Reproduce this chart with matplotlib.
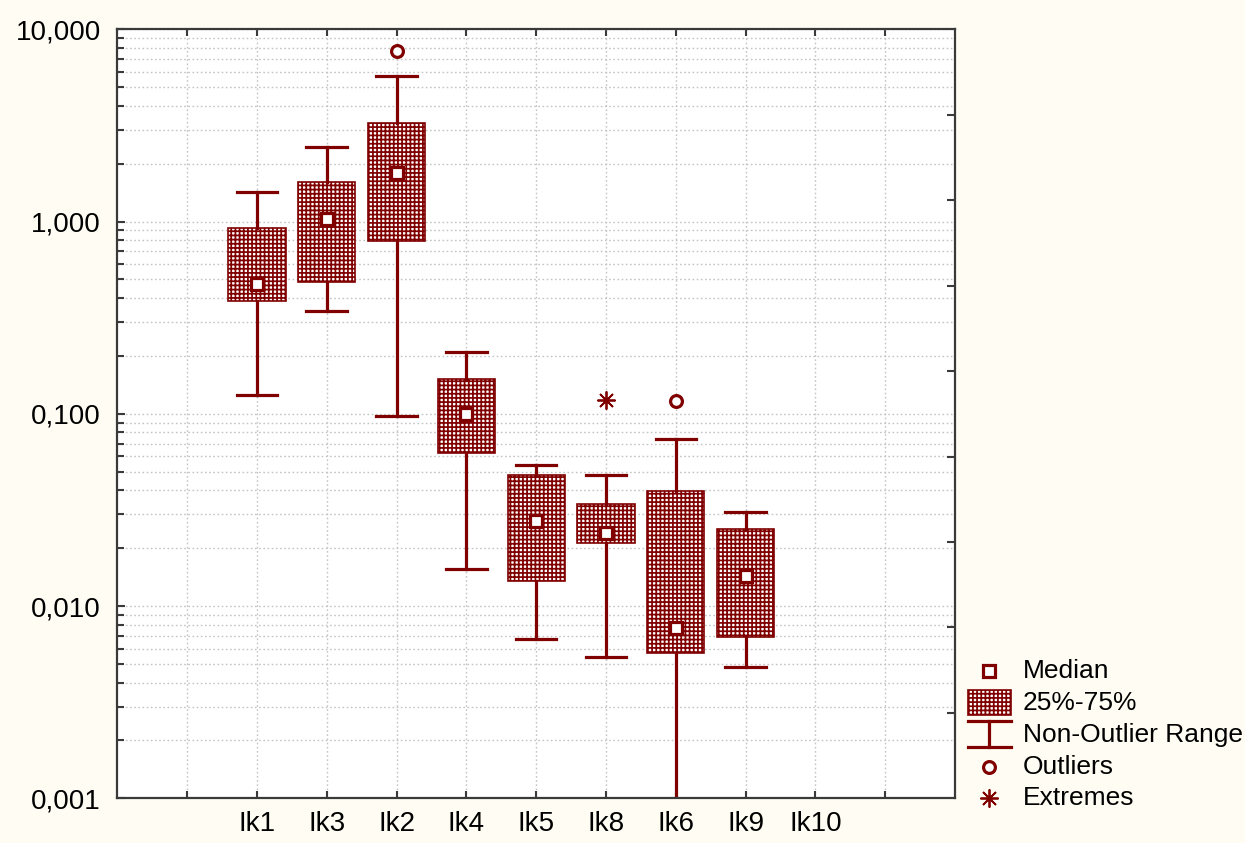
import matplotlib
matplotlib.use('Agg')
import matplotlib.pyplot as plt
from matplotlib.ticker import FuncFormatter, LogLocator, NullFormatter
from matplotlib.patches import Rectangle

plt.rcParams['font.family'] = ['Liberation Sans', 'DejaVu Sans']
plt.rcParams['hatch.linewidth'] = 1.25

MAROON = '#800000'
BG = '#fffdf3'
SPINE = '#3a3a3a'
GRID = '#c4c4c4'
HATCH = '++++'

# order of groups along the x axis (Ik10 has no data)
groups = ['Ik1', 'Ik3', 'Ik2', 'Ik4', 'Ik5', 'Ik8', 'Ik6', 'Ik9', 'Ik10']
medians = [0.475, 1.03, 1.78, 0.100, 0.0276, 0.0241, 0.00766, 0.0143]
q1 = [0.388, 0.487, 0.796, 0.0626, 0.0135, 0.0212, 0.00571, 0.00687]
q3 = [0.93, 1.61, 3.24, 0.152, 0.0478, 0.0339, 0.0395, 0.0252]
whis_lo = [0.1256, 0.343, 0.0977, 0.0156, 0.0067, 0.00545, 0.0004, 0.00483]
whis_hi = [1.42, 2.43, 5.75, 0.21, 0.054, 0.0478, 0.0743, 0.0309]
outliers = {'Ik2': [7.68], 'Ik6': [0.117]}
extremes = {'Ik8': [0.118]}

fig = plt.figure(figsize=(12.45, 8.43), dpi=100, facecolor=BG)
W, H = 1245, 843
ax = fig.add_axes([117.3 / W, (H - 798.3) / H, (955 - 117.3) / W, (798.3 - 29.3) / H])
ax.set_facecolor('white')

pos = {g: i + 2 for i, g in enumerate(groups)}
stats = []
for i in range(len(medians)):
    stats.append(dict(med=medians[i], q1=q1[i], q3=q3[i],
                      whislo=whis_lo[i], whishi=whis_hi[i], fliers=[]))
box_pos = [pos[g] for g in groups[:len(medians)]]

ax.bxp(stats, positions=box_pos, widths=0.82, capwidths=0.58,
       patch_artist=True, showfliers=False,
       boxprops=dict(facecolor='white', edgecolor=MAROON, hatch=HATCH, linewidth=1.2),
       whiskerprops=dict(color=MAROON, linewidth=2.3),
       capprops=dict(color=MAROON, linewidth=2.3),
       medianprops=dict(linewidth=0))

ax.plot(box_pos, medians, 's', ms=9, mfc='white', mec=MAROON, mew=2.3, zorder=5)
for g, vals in outliers.items():
    ax.plot([pos[g]] * len(vals), vals, 'o', ms=8.5, mfc='white', mec=MAROON, mew=2.3,
            zorder=5, clip_on=False)
for g, vals in extremes.items():
    ax.plot([pos[g]] * len(vals), vals, marker=(8, 2, 0), ls='none', ms=13,
            mec=MAROON, mew=1.3, zorder=5)

# axes, ticks and grid
ax.set_yscale('log')
ax.set_ylim(0.001, 10)
ax.set_xlim(0, 12)
ax.set_xticks(range(1, 12))
ax.set_xticklabels([''] + groups + [''])
ax.yaxis.set_minor_locator(LogLocator(base=10, subs=range(2, 10)))
ax.yaxis.set_minor_formatter(NullFormatter())
ax.yaxis.set_major_formatter(FuncFormatter(lambda v, p: f'{v:.3f}'.replace('.', ',')))

ax.set_axisbelow(True)
ax.grid(True, axis='y', which='both', ls=(0, (1.2, 1.8)), color=GRID, lw=1.0)
ax.grid(True, axis='x', which='major', ls=(0, (1.2, 1.8)), color=GRID, lw=1.0)

ax.tick_params(axis='y', which='major', direction='in', length=6, width=1.5,
               color=SPINE, labelsize=20, pad=12, right=False)
ax.tick_params(axis='y', which='minor', direction='in', length=5, width=1.5,
               color=SPINE, right=False)
ax.tick_params(axis='x', which='major', direction='in', length=5, width=1.5,
               color=SPINE, labelsize=20, pad=9, top=True)
for s in ax.spines.values():
    s.set_color(SPINE)
    s.set_linewidth(1.6)

ax2 = ax.twinx()
ax2.set_ylim(0, 9)
ax2.set_yticks(range(1, 9))
ax2.tick_params(axis='y', direction='in', length=6, width=1.5, color=SPINE,
                labelright=False)
for s in ax2.spines.values():
    s.set_visible(False)

# legend drawn in figure pixel space
lg = fig.add_axes([0, 0, 1, 1], facecolor='none')
lg.set_xlim(0, W)
lg.set_ylim(H, 0)
lg.axis('off')
mx = 989
rows = [671, 703, 735, 767, 798]
lg.plot(mx, rows[0], 's', ms=9, mfc='white', mec=MAROON, mew=2.3)
lg.add_patch(Rectangle((968, 690), 43, 25, facecolor='white', edgecolor=MAROON,
                       hatch=HATCH, linewidth=1.2))
lg.plot([968, 1011], [721, 721], color=MAROON, lw=2.3)
lg.plot([968, 1011], [747, 747], color=MAROON, lw=2.3)
lg.plot([mx, mx], [721, 747], color=MAROON, lw=2.3)
lg.plot(mx, rows[3], 'o', ms=8.5, mfc='white', mec=MAROON, mew=2.3)
lg.plot(mx, rows[4], marker=(8, 2, 0), ls='none', ms=13, mec=MAROON, mew=1.3)
labels = ['Median', '25%-75%', 'Non-Outlier Range', 'Outliers', 'Extremes']
for y, t in zip(rows, labels):
    lg.text(1023, y, t, fontsize=19, va='center', ha='left', color='black')

fig.savefig('out.png', dpi=100, facecolor=BG)
